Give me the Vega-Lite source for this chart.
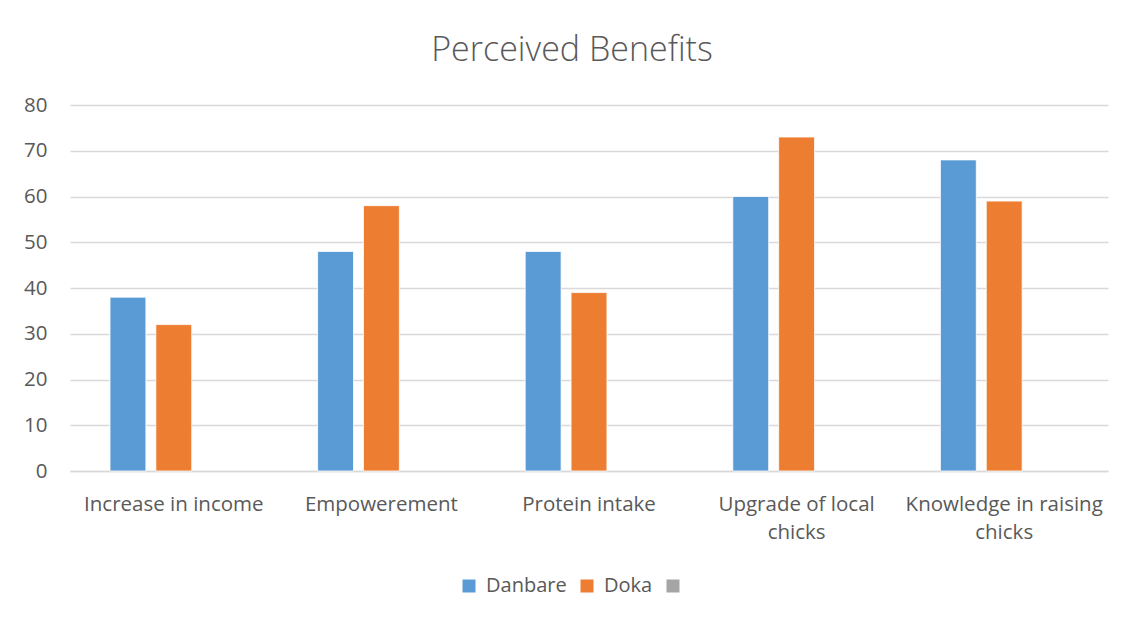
{
  "$schema": "https://vega.github.io/schema/vega-lite/v6.json",
  "width": 1038,
  "height": 366,
  "autosize": {"type": "none"},
  "padding": {"left": 70, "top": 105, "right": 24, "bottom": 151},
  "background": "white",
  "title": {
    "text": "Perceived Benefits",
    "font": "Open Sans",
    "fontSize": 34,
    "fontWeight": 300,
    "color": "#595959",
    "anchor": "middle",
    "dx": -17,
    "offset": 27
  },
  "data": {
    "values": [
      {"benefit": "Increase in income", "site": "Danbare", "value": 38},
      {"benefit": "Increase in income", "site": "Doka", "value": 32},
      {"benefit": "Empowerement", "site": "Danbare", "value": 48},
      {"benefit": "Empowerement", "site": "Doka", "value": 58},
      {"benefit": "Protein intake", "site": "Danbare", "value": 48},
      {"benefit": "Protein intake", "site": "Doka", "value": 39},
      {"benefit": "Upgrade of local chicks", "site": "Danbare", "value": 60},
      {"benefit": "Upgrade of local chicks", "site": "Doka", "value": 73},
      {"benefit": "Knowledge in raising chicks", "site": "Danbare", "value": 68},
      {"benefit": "Knowledge in raising chicks", "site": "Doka", "value": 59}
    ]
  },
  "mark": {"type": "bar", "stroke": "white", "strokeWidth": 0.8},
  "encoding": {
    "x": {
      "field": "benefit",
      "type": "nominal",
      "sort": null,
      "title": null,
      "scale": {"paddingInner": 0.3854, "paddingOuter": 0.1927},
      "axis": {
        "labelAngle": 0,
        "labelFont": "Open Sans",
        "labelFontSize": 20.5,
        "labelColor": "#595959",
        "labelPadding": 23,
        "labelLineHeight": 28,
        "labelBaseline": "top",
        "labelLimit": 0,
        "domain": true,
        "domainColor": "#d9d9d9",
        "domainWidth": 1.5,
        "ticks": false,
        "grid": false,
        "labelExpr": "datum.label == 'Upgrade of local chicks' ? ['Upgrade of local', 'chicks'] : datum.label == 'Knowledge in raising chicks' ? ['Knowledge in raising', 'chicks'] : datum.label"
      }
    },
    "xOffset": {
      "field": "site",
      "type": "nominal",
      "scale": {"domain": ["Danbare", "Doka", " "], "paddingInner": 0.217, "paddingOuter": 0}
    },
    "y": {
      "field": "value",
      "type": "quantitative",
      "title": null,
      "scale": {"domain": [0, 80], "nice": false},
      "axis": {
        "values": [0, 10, 20, 30, 40, 50, 60, 70, 80],
        "labelFont": "Open Sans",
        "labelFontSize": 20.5,
        "labelColor": "#595959",
        "labelPadding": 23,
        "domain": false,
        "ticks": false,
        "grid": true,
        "gridColor": "#d9d9d9",
        "gridWidth": 1.5
      }
    },
    "color": {
      "field": "site",
      "type": "nominal",
      "scale": {"domain": ["Danbare", "Doka", " "], "range": ["#5b9bd5", "#ed7d31", "#a5a5a5"]},
      "legend": {
        "title": null,
        "orient": "none",
        "direction": "horizontal",
        "legendX": 389,
        "legendY": 471,
        "symbolType": "square",
        "symbolSize": 169,
        "symbolStrokeWidth": 0,
        "labelFont": "Open Sans",
        "labelFontSize": 20,
        "labelColor": "#595959",
        "labelOffset": 7,
        "columnPadding": 10
      }
    }
  },
  "config": {
    "view": {"stroke": null}
  }
}
